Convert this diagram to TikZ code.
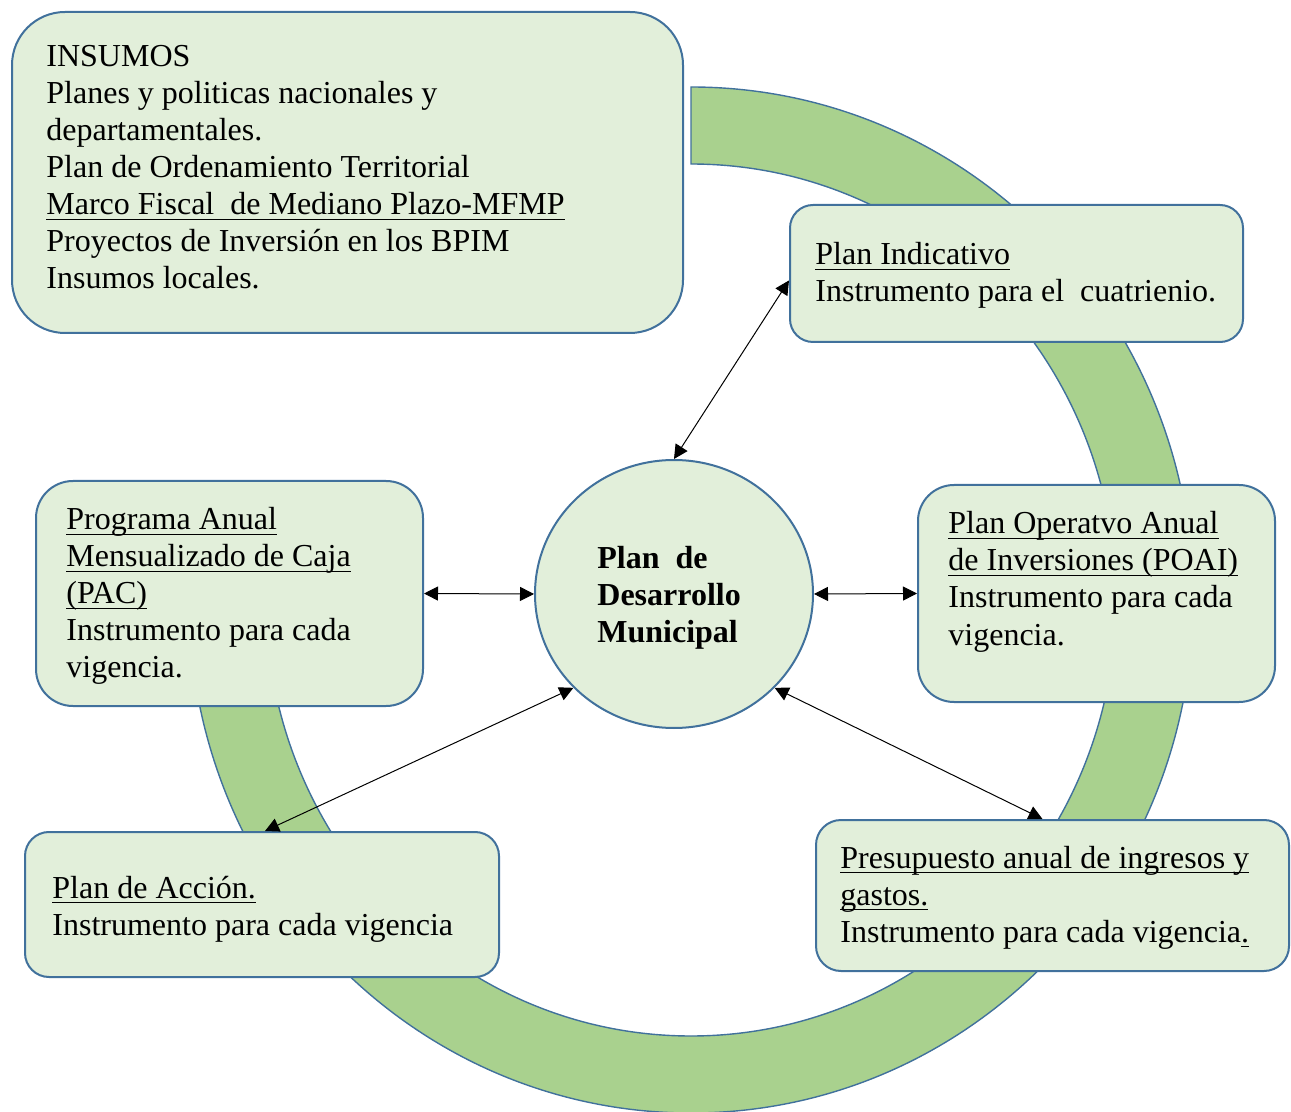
\documentclass[tikz,border=0pt]{standalone}
\usepackage{fontspec}
\setmainfont{Liberation Serif}
\usetikzlibrary{arrows.meta,calc,shapes.geometric}
\definecolor{boxfill}{HTML}{E2EFDA}
\definecolor{ringfill}{HTML}{A9D18E}
\definecolor{bord}{HTML}{41719C}
\newsavebox{\myulbox}
\newcommand{\uline}[1]{\sbox{\myulbox}{#1}\rlap{\rule[-2.6pt]{\wd\myulbox}{0.65pt}}\usebox{\myulbox}}
\newcommand{\txtblock}[1]{\begin{tabular}[t]{@{}l@{}}#1\end{tabular}}
\begin{document}
\begin{tikzpicture}[x=0.5pt,y=0.5pt,
  boxst/.style={draw=bord,fill=boxfill,line width=1pt,inner sep=0pt,rectangle},
  txt/.style={anchor=base west,inner sep=0pt,font=\fontsize{16pt}{18.5pt}\selectfont},
  dbl/.style={line width=0.5pt,{Triangle[length=7pt,width=7pt]}-{Triangle[length=7pt,width=7pt]}}]
\useasboundingbox (0,0) rectangle (1291,-1112);
% ring
\filldraw[fill=ringfill,draw=bord,line width=0.7pt]
  (691,-87) arc[start angle=90,end angle=-180,x radius=502,y radius=513]
  -- (266,-600) arc[start angle=-180,end angle=90,x radius=425,y radius=436] -- cycle;
% boxes
\node[boxst,rounded corners=26.5pt,minimum width=335.5pt,minimum height=160.5pt] (ins) at (347.5,-172.5) {};
\node[boxst,rounded corners=11.5pt,minimum width=226.5pt,minimum height=68.5pt] (ind) at (1016.5,-273.5) {};
\node[boxst,rounded corners=18pt,minimum width=178.5pt,minimum height=108.5pt] (poai) at (1096.5,-593.5) {};
\node[boxst,rounded corners=18.5pt,minimum width=193.5pt,minimum height=112.5pt] (pac) at (229.5,-593.5) {};
\node[boxst,rounded corners=12pt,minimum width=237pt,minimum height=72.5pt] (acc) at (262,-904.5) {};
\node[boxst,rounded corners=12.5pt,minimum width=236.5pt,minimum height=75.5pt] (pre) at (1052.5,-895.5) {};
\node[draw=bord,fill=boxfill,line width=1pt,ellipse,inner sep=0pt,minimum width=139pt,minimum height=134pt] (pdm) at (674,-594) {};
% texts
\node[txt] (tins) at (46,-67) {\txtblock{INSUMOS\\
Planes y politicas nacionales y\\
departamentales.\\
Plan de Ordenamiento Territorial\\
\uline{Marco Fiscal\ \ de Mediano Plazo-MFMP}\\
Proyectos de Inversión en los BPIM\\
Insumos locales.}};
\node[txt] (tind) at (815,-265) {\txtblock{\uline{Plan Indicativo}\\
Instrumento para el\ \ cuatrienio.}};
\node[txt] (tpoai) at (948,-534) {\txtblock{\uline{Plan Operatvo Anual}\\
\uline{de Inversiones (POAI)}\\
Instrumento para cada\\
vigencia.}};
\node[txt] (tpac) at (66,-530) {\txtblock{\uline{Programa Anual}\\
\uline{Mensualizado de Caja}\\
\uline{(PAC)}\\
Instrumento para cada\\
vigencia.}};
\node[txt] (tacc) at (52,-898) {\txtblock{\uline{Plan de Acción.}\\
Instrumento para cada vigencia}};
\node[txt] (tpre) at (840,-868) {\txtblock{\uline{Presupuesto anual de ingresos y}\\
\uline{gastos.}\\
Instrumento para cada vigencia\uline{.}}};
\node[txt,font=\fontsize{16pt}{18.5pt}\selectfont\bfseries] (tpdm) at (597,-568) {\txtblock{Plan\ \ de\\
Desarrollo\\
Municipal}};
% connectors
\draw[dbl] ($(ind.north west)!0.55!(ind.south west)$) -- (pdm.north);
\draw[dbl] (pdm.east) -- (poai.west);
\draw[dbl] (pac.east) -- (pdm.west);
\draw[dbl] (pdm.223) -- ([xshift=1.5pt]acc.north);
\draw[dbl] (pdm.317) -- ([xshift=-5pt]pre.north);
\end{tikzpicture}
\end{document}
